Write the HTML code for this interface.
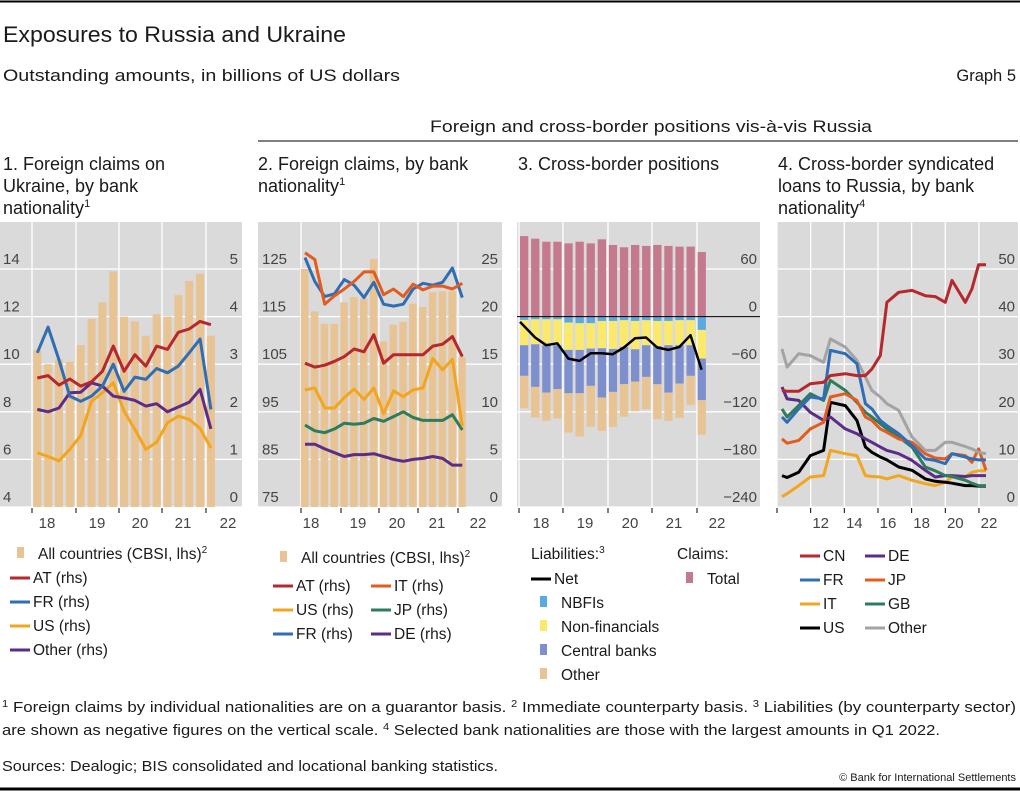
<!DOCTYPE html>
<html><head><meta charset="utf-8"><style>
body{margin:0;background:#fff;}
svg{display:block;font-family:"Liberation Sans",sans-serif;}
text{fill:#1a1a1a;}
.tk{font-size:15px;fill:#444;}
.lg{font-size:15.5px;}
.pt{font-size:18px;}
</style></head><body>
<svg id="c" width="1020" height="791" viewBox="0 0 1020 791">
<line x1="0" y1="1.5" x2="1020" y2="1.5" stroke="#000" stroke-width="2"/>
<text x="3" y="42" font-size="22" textLength="343" lengthAdjust="spacingAndGlyphs">Exposures to Russia and Ukraine</text>
<text x="3" y="81" font-size="17" textLength="397" lengthAdjust="spacingAndGlyphs">Outstanding amounts, in billions of US dollars</text>
<text x="1016" y="81" font-size="16.5" text-anchor="end">Graph 5</text>
<text x="651" y="132" font-size="17" text-anchor="middle" textLength="442" lengthAdjust="spacingAndGlyphs">Foreign and cross-border positions vis-à-vis Russia</text>
<line x1="258" y1="141" x2="1018" y2="141" stroke="#000" stroke-width="1"/>
<g class="pt">
<text x="3" y="170"><tspan x="3">1. Foreign claims on</tspan><tspan x="3" dy="22">Ukraine, by bank</tspan><tspan x="3" dy="22">nationality</tspan><tspan font-size="11" dy="-7">1</tspan></text>
<text x="258" y="170"><tspan x="258">2. Foreign claims, by bank</tspan><tspan x="258" dy="22">nationality</tspan><tspan font-size="11" dy="-7">1</tspan></text>
<text x="518" y="170">3. Cross-border positions</text>
<text x="778" y="170"><tspan x="778">4. Cross-border syndicated</tspan><tspan x="778" dy="22">loans to Russia, by bank</tspan><tspan x="778" dy="22">nationality</tspan><tspan font-size="11" dy="-7">4</tspan></text>
</g>
<g id="plots"></g>
<g class="lg" id="legends"></g>
<g font-size="15">
<text x="2" y="712" textLength="1014" lengthAdjust="spacingAndGlyphs"><tspan font-size="10" dy="-5">1</tspan><tspan dy="5">  Foreign claims by individual nationalities are on a guarantor basis.    </tspan><tspan font-size="10" dy="-5">2</tspan><tspan dy="5">  Immediate counterparty basis.    </tspan><tspan font-size="10" dy="-5">3</tspan><tspan dy="5">  Liabilities (by counterparty sector)</tspan></text>
<text x="2" y="735" textLength="938" lengthAdjust="spacingAndGlyphs">are shown as negative figures on the vertical scale.    <tspan font-size="10" dy="-5">4</tspan><tspan dy="5">  Selected bank nationalities are those with the largest amounts in Q1 2022.</tspan></text>
<text x="2" y="771" textLength="496" lengthAdjust="spacingAndGlyphs">Sources: Dealogic; BIS consolidated and locational banking statistics.</text>
</g>
<text x="1016" y="781" font-size="11" text-anchor="end">© Bank for International Settlements</text>
<line x1="0" y1="789" x2="1020" y2="789" stroke="#000" stroke-width="3"/>
</svg>
<script>
// ---------- data ----------
const p1Bars=[10.6,10.0,10.2,10.1,10.8,11.9,12.6,13.9,12.0,11.8,11.2,12.1,12.0,12.9,13.5,13.8,11.2];
const p1AT=[2.71,2.76,2.56,2.69,2.54,2.63,2.85,3.38,2.85,3.2,2.96,3.38,3.31,3.67,3.74,3.9,3.83];
const p1FR=[3.24,3.78,3.09,2.33,2.22,2.33,2.54,3.0,2.43,2.73,2.68,2.91,2.82,2.96,3.24,3.53,2.05];
const p1US=[1.14,1.06,0.97,1.21,1.5,2.22,2.4,2.61,2.01,1.63,1.21,1.36,1.77,1.91,1.84,1.65,1.24];
const p1Other=[2.05,2.0,2.08,2.4,2.41,2.61,2.54,2.33,2.29,2.24,2.12,2.17,2.0,2.1,2.2,2.47,1.64];
const p1LTicks=[4,6,8,10,12,14];
const p1RTicks=[0,1,2,3,4,5];

const p2Bars=[125,116.1,113.5,113.5,118,119.1,118.8,127.1,109.8,113.3,113.9,117.7,117,120.1,120.3,120.3,106.5];
const p2FR=[26.2,23.7,22.1,22.4,23.9,23.3,22.0,23.6,21.3,21.1,21.3,22.9,23.5,23.3,23.6,25.1,22.0];
const p2IT=[26.7,26.0,21.3,22.2,22.9,23.7,24.7,24.7,22.3,22.9,22.1,23.4,22.8,23.2,23.2,22.9,23.5];
const p2AT=[15.1,14.7,14.9,15.3,15.8,16.6,16.3,18.1,15.1,16.0,16.0,16.0,16.0,16.9,17.1,17.9,15.8];
const p2US=[12.3,12.5,10.4,10.4,11.5,12.4,11.3,12.5,9.8,12.2,11.6,12.3,12.5,15.6,14.4,15.5,8.5];
const p2JP=[8.6,8.0,7.8,8.2,8.8,8.7,8.8,9.3,9.0,9.5,10.0,9.4,9.1,9.1,9.1,9.7,8.1];
const p2DE=[6.6,6.6,6.1,5.7,5.3,5.5,5.5,5.6,5.3,5.0,4.8,5.0,5.1,5.3,5.1,4.4,4.4];
const p2LTicks=[75,85,95,105,115,125];
const p2RTicks=[0,5,10,15,20,25];

const p3Claims=[101.5,98.2,94.4,94.4,92.3,94.4,92.3,97.4,90.3,87.4,90.3,89.1,90.3,89.1,88.2,88.2,81.4];
const p3NBFI=[4.2,3.4,3.4,3.4,7.6,8.4,8.4,5.5,5.5,4.6,5.5,4.6,5.5,5.5,4.6,4.6,16.8];
const p3NonFin=[31.9,31.5,32.7,32.7,34.4,33.6,31.9,34.4,35.3,33.6,35.7,31.5,31.5,30.6,31.5,31.5,36.1];
const p3CB=[38.6,53.7,59.6,55.4,54.6,54.6,47.0,62.1,54.1,47.0,40.7,39.9,48.3,59.6,48.3,38.6,52.5];
const p3Other=[40.7,38.6,35.7,36.9,49.5,54.6,51.6,42.0,44.1,41.1,37.4,40.7,44.1,35.7,43.2,36.5,43.6];
const p3Net=[-6.7,-26.4,-36.1,-33.6,-52.9,-55.8,-46.2,-46.2,-47.4,-39.0,-27.3,-26.4,-39.0,-42.0,-38.2,-23.5,-67.1];
const p3Ticks=[-240,-180,-120,-60,0,60];

const p4Dates=[2010.3,2010.6,2011.29,2011.98,2012.77,2013.17,2014.06,2014.75,2015.25,2015.64,2016.14,2016.53,2017.23,2018.02,2018.81,2019.4,2020.0,2020.4,2021.19,2021.58,2021.98,2022.42];
const p4CN=[24.5,24.3,24.3,25.9,26.2,27.6,28.0,27.6,27.6,29.0,31.8,43.0,45.1,45.5,44.4,44.2,43.0,47.6,43.0,45.8,50.9,50.9];
const p4FR=[18.9,17.8,20.6,23.1,22.7,32.9,32.2,30.1,21.7,20.6,18.2,17.1,15.4,12.9,10.1,9.8,9.1,11.2,10.5,10.1,9.9,9.9];
const p4Other=[33.2,29.4,32.2,31.8,30.4,35.3,33.6,30.8,27.3,24.5,23.1,21.7,20.3,14.7,11.9,11.9,13.6,13.6,12.7,12.2,11.5,11.2];
const p4GB=[20.6,18.9,21.3,23.8,22.4,26.6,24.5,22.0,19.9,18.9,17.5,16.4,14.7,12.6,8.4,7.6,6.6,6.4,5.6,5.0,4.5,4.5];
const p4JP=[14.3,13.4,14.0,16.4,17.8,23.1,23.8,22.4,18.9,18.2,16.4,15.7,14.3,13.6,11.2,10.3,10.1,11.2,10.8,9.4,12.2,7.7];
const p4DE=[25.2,22.7,22.4,19.9,18.2,18.9,16.4,15.4,14.3,13.6,12.6,11.9,11.2,9.8,7.7,6.3,6.6,6.6,6.4,6.6,6.6,6.6];
const p4US=[6.6,6.2,7.3,10.8,11.9,22.0,21.3,18.2,12.6,11.5,10.5,9.9,8.4,7.7,5.9,5.4,5.2,5.0,4.5,4.5,4.4,4.4];
const p4IT=[2.2,2.8,4.5,6.3,6.6,11.9,11.2,10.8,6.6,6.4,6.3,5.9,6.6,5.6,4.9,4.5,5.2,6.3,6.3,7.3,7.6,7.6];
const p4Ticks=[0,10,20,30,40,50];
const p4Years=[2010,2012,2014,2016,2018,2020,2022];
const p4YearLabels=["12","14","16","18","20","22"];
const qYearLabels=["18","19","20","21","22"];

// ---------- helpers ----------
const NS="http://www.w3.org/2000/svg";
const plots=document.getElementById('plots');
const legends=document.getElementById('legends');
function mk(tag,attrs,parent){const e=document.createElementNS(NS,tag);for(const k in attrs)e.setAttribute(k,attrs[k]);(parent||plots).appendChild(e);return e;}
const TOP=222,BOT=507;
function yScale(min,max){return v=>BOT-(v-min)/(max-min)*238;}
const C={red:"#b5282d",blue:"#2f6db5",yel:"#f2a51e",pur:"#5c2d87",org:"#e35b1d",grn:"#2d7c5e",blk:"#000",gry:"#a3a3a3",tan:"#e8c394",claim:"#c47a8c",nbfi:"#5aaae2",nonfin:"#fbe96c",cb:"#7e8fcd"};

function panelBg(x0,x1,name){
  const r=mk('rect',{x:x0,y:TOP,width:x1-x0,height:BOT-TOP,fill:"#dadada"});
  
  
}
function hgrid(x0,x1,ticks,ys){
  ticks.forEach(t=>{const l=mk('line',{x1:x0,x2:x1,y1:ys(t),y2:ys(t),stroke:"#fff","stroke-width":1.3});
  
  });
}
function vgrid(xs){
  xs.forEach(x=>{const l=mk('line',{x1:x,x2:x,y1:TOP,y2:BOT,stroke:"#fff","stroke-width":1.3});
  
  
  const t=mk('line',{x1:x,x2:x,y1:BOT+1,y2:BOT+6,stroke:"#000","stroke-width":1});
  
  });
}
function tickLabels(ticks,ys,x,anchor,name){
  ticks.forEach(t=>{const e=mk('text',{x:x,y:ys(t)-5,"text-anchor":anchor,class:"tk"});
  e.textContent=String(t).replace('-','\u2212');
  
  });
}
function xLabels(labels,xs){
  labels.forEach((s,i)=>{const e=mk('text',{x:xs[i],y:528,"text-anchor":"middle",class:"tk",fill:"#333"});
  e.textContent=s;
  
  });
}
function bars(vals,xf,w,ys,base,color,name){
  vals.forEach((v,i)=>{const y0=ys(base),y1=ys(v);
  const r=mk('rect',{x:xf(i),y:Math.min(y0,y1),width:w,height:Math.abs(y1-y0),fill:color});
  
  });
}
function line(vals,xf,ys,color,name,w){
  const d=vals.map((v,i)=>(i?'L':'M')+xf(i).toFixed(1)+','+ys(v).toFixed(1)).join('');
  const p=mk('path',{d:d,fill:"none",stroke:color,"stroke-width":w||3,"stroke-linejoin":"round"});
  
  
}

// ---------- panel 1 ----------
{
const yl=yScale(4,14), yr=yScale(0,5);
const step=10.85, x0=32;
panelBg(0,242,'panel1-plot-area');
hgrid(0,242,p1LTicks,yl);
vgrid([32,76,119,162,206]);
bars(p1Bars,i=>x0+1.3+i*step,8,yl,4,C.tan,'bar-all-countries');
const xc=i=>x0+5.3+i*step;
line(p1US,xc,yr,C.yel,'line-us');
line(p1Other,xc,yr,C.pur,'line-other');
line(p1FR,xc,yr,C.blue,'line-fr');
line(p1AT,xc,yr,C.red,'line-at');
tickLabels(p1LTicks,yl,3,'start','y-left-tick-label');
tickLabels(p1RTicks,yr,238,'end','y-right-tick-label');
xLabels(qYearLabels,[47,97,140,183,228]);
}
// ---------- panel 2 ----------
{
const yl=yScale(75,125), yr=yScale(0,25);
const step=9.83, x0=301;
panelBg(258,502,'panel2-plot-area');
hgrid(258,502,p2LTicks,yl);
vgrid([301,341,379,418,458]);
bars(p2Bars,i=>x0+i*step,7.5,yl,75,C.tan,'bar-all-countries');
const xc=i=>x0+4+i*step;
line(p2DE,xc,yr,C.pur,'line-de');
line(p2JP,xc,yr,C.grn,'line-jp');
line(p2US,xc,yr,C.yel,'line-us');
line(p2AT,xc,yr,C.red,'line-at');
line(p2FR,xc,yr,C.blue,'line-fr');
line(p2IT,xc,yr,C.org,'line-it');
tickLabels(p2LTicks,yl,262,'start','y-left-tick-label');
tickLabels(p2RTicks,yr,498,'end','y-right-tick-label');
xLabels(qYearLabels,[311,358,397,437,478]);
}
// ---------- panel 3 ----------
{
const ys=yScale(-240,60);
const step=11.1, x0=520;
panelBg(517,760,'panel3-plot-area');
hgrid(517,760,p3Ticks.filter(t=>t!==0),ys);
vgrid([519,563,608,652,697]);
bars(p3Claims,i=>x0+i*step,8.3,ys,0,C.claim,'bar-claims-total');
const cum1=p3NBFI.map(v=>-v);
const cum2=p3NonFin.map((v,i)=>cum1[i]-v);
const cum3=p3CB.map((v,i)=>cum2[i]-v);
const cum4=p3Other.map((v,i)=>cum3[i]-v);
p3NBFI.forEach((v,i)=>{
  [[0,cum1[i],C.nbfi,'bar-nbfi'],[cum1[i],cum2[i],C.nonfin,'bar-nonfinancials'],[cum2[i],cum3[i],C.cb,'bar-central-banks'],[cum3[i],cum4[i],C.tan,'bar-other']].forEach(s=>{
    const r=mk('rect',{x:x0+i*step,y:ys(s[0]),width:8.3,height:ys(s[1])-ys(s[0]),fill:s[2]});
    
    
  });
});
const z=mk('line',{x1:517,x2:760,y1:ys(0),y2:ys(0),stroke:"#000","stroke-width":1});


line(p3Net,i=>x0+4+i*step-(i===0?4:0),ys,C.blk,'line-net',2.5);
tickLabels(p3Ticks,ys,757,'end','y-tick-label');
xLabels(qYearLabels,[541,585,630,674,717]);
}
// ---------- panel 4 ----------
{
const ys=yScale(0,50);
const xd=d=>777+(d-2010)*16.83;
panelBg(777,1018,'panel4-plot-area');
hgrid(777,1018,p4Ticks,ys);
vgrid(p4Years.map(xd));
const xi=i=>xd(p4Dates[i]);
line(p4IT,xi,ys,C.yel,'line-it');
line(p4US,xi,ys,C.blk,'line-us');
line(p4DE,xi,ys,C.pur,'line-de');
line(p4GB,xi,ys,C.grn,'line-gb');
line(p4JP,xi,ys,C.org,'line-jp');
line(p4Other,xi,ys,C.gry,'line-other');
line(p4FR,xi,ys,C.blue,'line-fr');
line(p4CN,xi,ys,C.red,'line-cn');
tickLabels(p4Ticks,ys,1015,'end','y-tick-label');
xLabels(p4YearLabels,p4Years.slice(1).map(y=>xd(y)+10));
}

// ---------- legends ----------
function legLine(x,y,color,label,name){
  const g=mk('g',{},legends);
  
  
  mk('line',{x1:x,x2:x+20,y1:y-5,y2:y-5,stroke:color,"stroke-width":3},g);
  const t=mk('text',{x:x+23,y:y},g);t.textContent=label;
}
function legBox(x,y,color,label,name,sup){
  const g=mk('g',{},legends);
  
  
  mk('rect',{x:x,y:y-12,width:7,height:11,fill:color},g);
  const t=mk('text',{x:x+21,y:y},g);t.textContent=label;
  if(sup){const s=mk('tspan',{"font-size":10,dy:-6},t);s.textContent=sup;}
}
legBox(17,559,C.tan,'All countries (CBSI, lhs)','legend-all-countries','2');
legLine(10,583,C.red,'AT (rhs)','legend-at');
legLine(10,607,C.blue,'FR (rhs)','legend-fr');
legLine(10,631,C.yel,'US (rhs)','legend-us');
legLine(10,655,C.pur,'Other (rhs)','legend-other');

legBox(280,563,C.tan,'All countries (CBSI, lhs)','legend-all-countries','2');
legLine(273,591,C.red,'AT (rhs)','legend-at');
legLine(371,591,C.org,'IT (rhs)','legend-it');
legLine(273,615,C.yel,'US (rhs)','legend-us');
legLine(371,615,C.grn,'JP (rhs)','legend-jp');
legLine(273,639,C.blue,'FR (rhs)','legend-fr');
legLine(371,639,C.pur,'DE (rhs)','legend-de');

{const g=mk('text',{x:531,y:559},legends);g.textContent='Liabilities:';


const s=mk('tspan',{"font-size":10,dy:-6},g);s.textContent='3';}
legLine(531,584,C.blk,'Net','legend-net');
legBox(540,608,C.nbfi,'NBFIs','legend-nbfis');
legBox(540,632,C.nonfin,'Non-financials','legend-nonfinancials');
legBox(540,656,C.cb,'Central banks','legend-central-banks');
legBox(540,680,C.tan,'Other','legend-other');
{const g=mk('text',{x:677,y:559},legends);g.textContent='Claims:';

}
legBox(686,584,C.claim,'Total','legend-claims-total');

legLine(800,561,C.red,'CN','legend-cn');
legLine(865,561,C.pur,'DE','legend-de');
legLine(800,585,C.blue,'FR','legend-fr');
legLine(865,585,C.org,'JP','legend-jp');
legLine(800,609,C.yel,'IT','legend-it');
legLine(865,609,C.grn,'GB','legend-gb');
legLine(800,633,C.blk,'US','legend-us');
legLine(865,633,C.gry,'Other','legend-other');
</script>
</body></html>
